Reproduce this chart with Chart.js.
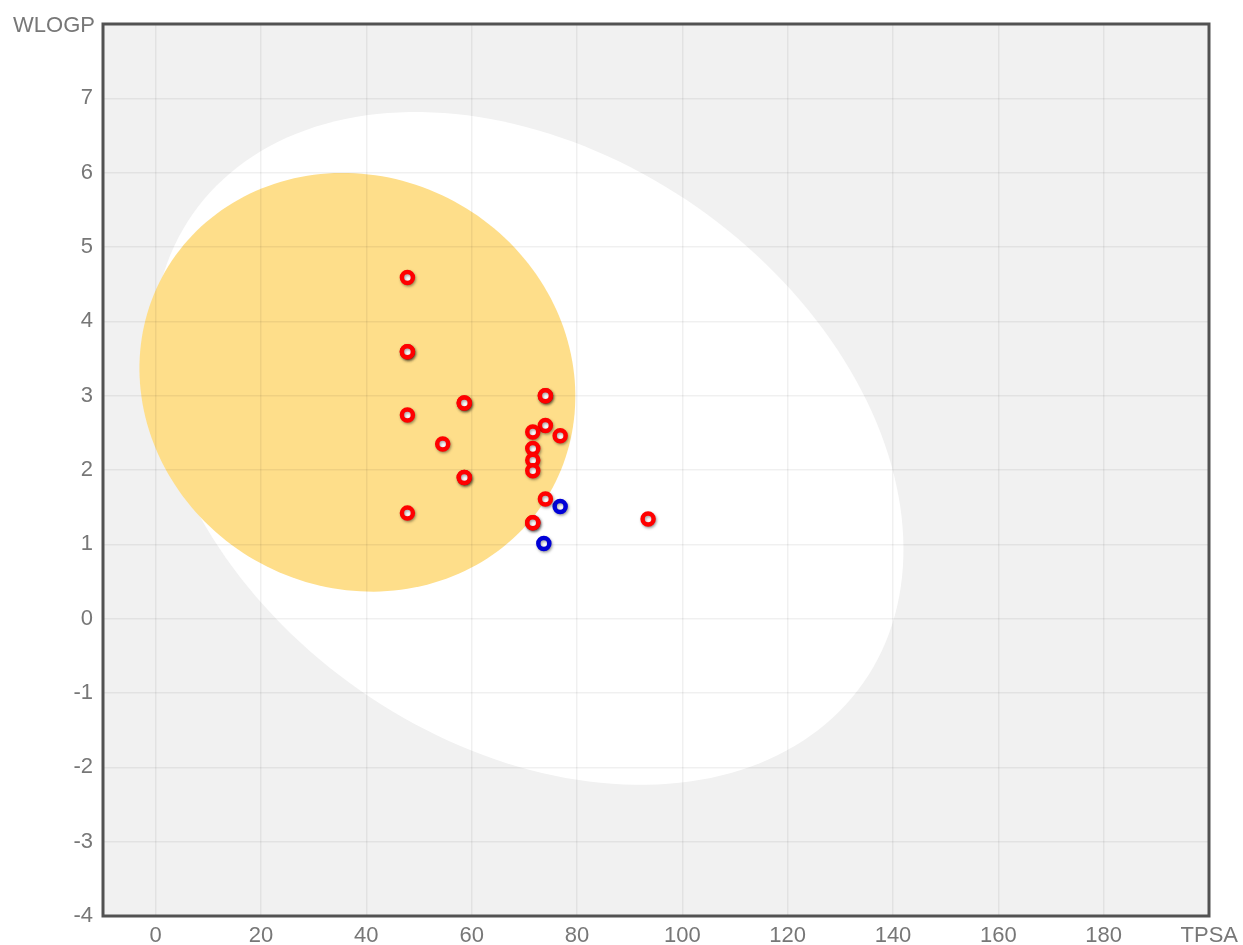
<!DOCTYPE html>
<html>
<head>
<meta charset="utf-8">
<title>BOILED-Egg</title>
<script src="https://cdn.jsdelivr.net/npm/chart.js@4.4.1/dist/chart.umd.min.js"></script>
<style>
html, body { margin: 0; padding: 0; background: #fff; }
#wrap { width: 1243px; height: 945px; }
</style>
</head>
<body>
<div id="wrap"><canvas id="eggChart" width="1243" height="945"></canvas></div>
<script>
// red = molecules that are not P-gp substrates, blue = P-gp substrates
var redTPSA = [47.8, 47.8, 47.8, 47.8, 47.8, 58.6, 58.6, 54.5, 58.6, 58.6, 74.0, 74.0, 74.0, 76.8, 71.6, 71.6, 71.6, 71.6, 74.0, 71.6, 71.6, 93.5];
var redWLOGP = [4.59, 3.59, 3.59, 2.74, 1.42, 2.90, 2.90, 2.35, 1.90, 1.90, 3.00, 3.00, 2.60, 2.46, 2.51, 2.29, 2.13, 1.99, 1.61, 1.29, 1.29, 1.34];
var blueTPSA = [76.8, 73.7];
var blueWLOGP = [1.51, 1.01];

var xTicks = [0, 20, 40, 60, 80, 100, 120, 140, 160, 180];
var yTicks = [-4, -3, -2, -1, 0, 1, 2, 3, 4, 5, 6, 7];

// ellipses: centre and the two semi-axis vectors, in TPSA / WLOGP units
var whiteCentre = [70.7, 2.29];
var whiteAxisA = [63.7, -3.15];
var whiteAxisB = [-32.0, -3.25];
var yolkCentre = [38.3, 3.18];
var yolkAxisA = [36.5, -1.49];
var yolkAxisB = [-19.5, -2.39];

function toPoints(xs, ys) {
    return xs.map(function (x, i) {
        return { x: x, y: ys[i] };
    });
}

function drawEllipse(chart, centre, axisA, axisB, colour) {
    var ctx = chart.ctx;
    var xs = chart.scales.x;
    var ys = chart.scales.y;
    ctx.beginPath();
    for (var i = 0; i <= 200; i++) {
        var t = i / 200 * Math.PI * 2;
        var vx = centre[0] + axisA[0] * Math.cos(t) + axisB[0] * Math.sin(t);
        var vy = centre[1] + axisA[1] * Math.cos(t) + axisB[1] * Math.sin(t);
        var px = xs.getPixelForValue(vx);
        var py = ys.getPixelForValue(vy);
        if (i === 0) ctx.moveTo(px, py); else ctx.lineTo(px, py);
    }
    ctx.closePath();
    ctx.fillStyle = colour;
    ctx.fill();
}

var eggPlugin = {
    id: 'egg',
    beforeDraw: function (chart) {
        var ctx = chart.ctx;
        var a = chart.chartArea;
        ctx.save();
        ctx.fillStyle = '#f1f1f1';
        ctx.fillRect(a.left, a.top, a.right - a.left, a.bottom - a.top);
        ctx.beginPath();
        ctx.rect(a.left, a.top, a.right - a.left, a.bottom - a.top);
        ctx.clip();
        drawEllipse(chart, whiteCentre, whiteAxisA, whiteAxisB, '#ffffff');
        drawEllipse(chart, yolkCentre, yolkAxisA, yolkAxisB, 'rgb(254, 222, 138)');
        ctx.restore();
    },
    beforeDatasetsDraw: function (chart) {
        var ctx = chart.ctx;
        ctx.save();
        ctx.shadowColor = 'rgba(0, 0, 0, 0.35)';
        ctx.shadowBlur = 3;
        ctx.shadowOffsetX = 1;
        ctx.shadowOffsetY = 1.5;
    },
    afterDatasetsDraw: function (chart) {
        chart.ctx.restore();
    },
    afterDraw: function (chart) {
        var ctx = chart.ctx;
        var a = chart.chartArea;
        ctx.save();
        ctx.strokeStyle = '#525252';
        ctx.lineWidth = 3;
        ctx.strokeRect(a.left, a.top, a.right - a.left, a.bottom - a.top);
        ctx.fillStyle = '#777';
        ctx.font = '22px "Liberation Sans", Arial, sans-serif';
        ctx.textAlign = 'right';
        ctx.textBaseline = 'alphabetic';
        ctx.fillText('WLOGP', a.left - 8, a.top + 8);
        ctx.fillText('TPSA', chart.width - 5, 942);
        ctx.restore();
    }
};

var tickFont = { family: '"Liberation Sans", Arial, sans-serif', size: 22 };

var ctx1 = document.getElementById('eggChart').getContext('2d');
var eggChart = new Chart(ctx1, {
    type: 'scatter',
    data: {
        datasets: [{
            label: 'PGP-',
            data: toPoints(redTPSA, redWLOGP),
            backgroundColor: '#ffffff',
            borderColor: '#ff0000',
            borderWidth: 4.5,
            pointRadius: 5.5
        }, {
            label: 'PGP+',
            data: toPoints(blueTPSA, blueWLOGP),
            backgroundColor: '#ffffff',
            borderColor: 'rgb(0, 0, 215)',
            borderWidth: 4.5,
            pointRadius: 5.5
        }]
    },
    options: {
        responsive: false,
        animation: false,
        devicePixelRatio: 1,
        layout: { padding: { top: 24, right: 34 } },
        plugins: {
            legend: { display: false },
            tooltip: { enabled: false }
        },
        scales: {
            x: {
                type: 'linear',
                min: -10,
                max: 200,
                afterBuildTicks: function (scale) {
                    scale.ticks = xTicks.map(function (v) { return { value: v }; });
                },
                afterFit: function (scale) { scale.height = 29; },
                grid: { color: 'rgba(0, 0, 0, 0.06)', lineWidth: 1.5, drawTicks: false },
                border: { display: false },
                ticks: { color: '#777', font: tickFont, padding: 7, maxRotation: 0, autoSkip: false }
            },
            y: {
                type: 'linear',
                min: -4,
                max: 8,
                afterBuildTicks: function (scale) {
                    scale.ticks = yTicks.map(function (v) { return { value: v }; });
                },
                afterFit: function (scale) { scale.width = 103; },
                grid: { color: 'rgba(0, 0, 0, 0.06)', lineWidth: 1.5, drawTicks: false },
                border: { display: false },
                ticks: { color: '#777', font: tickFont, padding: 10, autoSkip: false }
            }
        }
    },
    plugins: [eggPlugin]
});
</script>
</body>
</html>
